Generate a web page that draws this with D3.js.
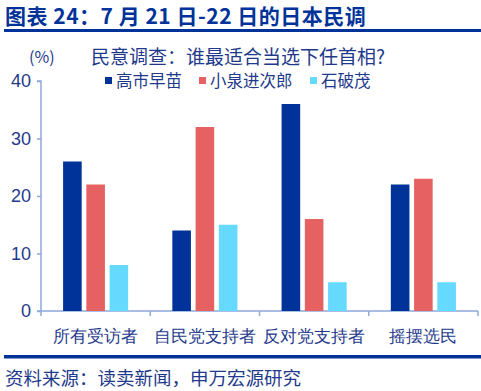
<!DOCTYPE html>
<html><head><meta charset="utf-8">
<script src="https://cdn.jsdelivr.net/npm/d3@7"></script>
<style>body{margin:0;background:#fff;} svg{display:block;font-family:"Noto Sans CJK SC","Noto Sans",sans-serif;}</style>
</head><body>
<svg id="c" width="481" height="391"></svg>
<script>
const categories = ["所有受访者","自民党支持者","反对党支持者","摇摆选民"];
const seriesNames = ["高市早苗","小泉进次郎","石破茂"];
const takaichi = [26,14,36,22];
const koizumi = [22,32,16,23];
const ishiba = [8,15,5,5];
const yTicks = [0,10,20,30,40];
const colors = ["#003399","#E66262","#66D9FF"];
const seriesVals = [takaichi, koizumi, ishiba];

const svg = d3.select("#c");
const textCol = "#1F3A8C";
const axisCol = "#8EA9DB";

// Title
svg.append("text").attr("x",5).attr("y",24).attr("fill","#003399")
  .attr("font-size",21).attr("letter-spacing",0.5).attr("font-weight","bold").text("图表 24：7 月 21 日-22 日的日本民调");
svg.append("rect").attr("x",4).attr("y",29).attr("width",477).attr("height",3).attr("fill","#003399");

const x = d3.scaleBand().domain(categories).range([41,478]);
const y = d3.scaleLinear().domain([0,40]).range([311,81]);

// y axis
const ya = svg.append("g").attr("transform","translate(41,0)")
  .call(d3.axisLeft(y).tickValues(yTicks).tickSize(4).tickPadding(6));
ya.select(".domain").attr("stroke",axisCol).attr("stroke-width",1.5).attr("d","M-4,81H0V311H-4");
ya.selectAll(".tick line").attr("stroke",axisCol).attr("stroke-width",1.5);
ya.selectAll(".tick text").attr("fill",textCol).attr("font-size",18).attr("font-family","Liberation Sans, Arial, sans-serif");

// x axis
const xa = svg.append("g").attr("transform","translate(0,311)")
  .call(d3.axisBottom(x).tickSize(0).tickPadding(19));
xa.select(".domain").attr("stroke",axisCol).attr("stroke-width",1.5).attr("d","M41,0H478");
xa.selectAll(".tick text").attr("fill",textCol).attr("font-size",17);
xa.selectAll(".sep").data(categories.concat(["end"])).enter().append("line")
  .attr("x1",(d,i)=> i<categories.length ? x(d) : x.range()[1])
  .attr("x2",(d,i)=> i<categories.length ? x(d) : x.range()[1])
  .attr("y1",0).attr("y2",5).attr("stroke",axisCol).attr("stroke-width",1.5);

// bars
const sub = d3.scaleBand().domain(seriesNames).range([0,x.bandwidth()]).paddingInner(0.2).paddingOuter(0.95);
seriesNames.forEach((s,si)=>{
  svg.append("g").selectAll("rect").data(categories).enter().append("rect")
    .attr("x",c=>x(c)+sub(s)).attr("width",sub.bandwidth())
    .attr("y",(c,i)=>y(seriesVals[si][i])).attr("height",(c,i)=>y(0)-y(seriesVals[si][i]))
    .attr("fill",colors[si]);
});

// (%) label
svg.append("text").attr("x",29).attr("y",63).attr("fill",textCol).attr("font-size",16).text("(%)");
// subtitle
svg.append("text").attr("x",91).attr("y",64).attr("fill",textCol).attr("font-size",19).text("民意调查：谁最适合当选下任首相?");
// legend
const legX = [105,199,310];
seriesNames.forEach((s,i)=>{
  svg.append("rect").attr("x",legX[i]).attr("y",77).attr("width",7).attr("height",7).attr("fill",colors[i]);
  svg.append("text").attr("x",legX[i]+11).attr("y",87).attr("fill",textCol).attr("font-size",16.5).text(s);
});

// bottom line & source
svg.append("rect").attr("x",4).attr("y",355).attr("width",477).attr("height",3.5).attr("fill","#003399");
svg.append("text").attr("x",5).attr("y",385).attr("fill",textCol).attr("font-size",18.5).text("资料来源：读卖新闻，申万宏源研究");
</script>
</body></html>
